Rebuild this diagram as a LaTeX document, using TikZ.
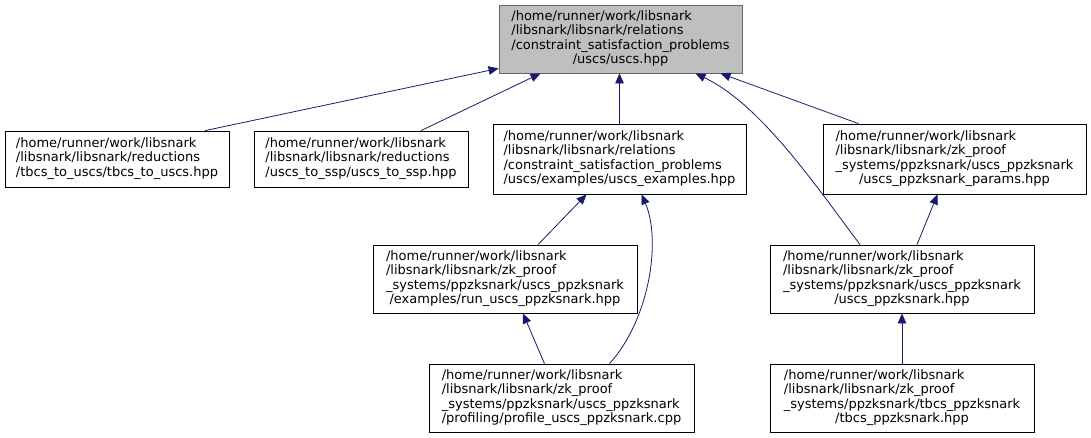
\documentclass[tikz,border=0pt]{standalone}
\usepackage{fontspec}
\setmainfont{DejaVu Sans}
\usepackage{tikz}
\usepackage{xcolor}
\usetikzlibrary{arrows.meta}

\definecolor{rootgray}{RGB}{191,191,191}
\definecolor{rootedge}{RGB}{102,102,102}
\definecolor{edgeblue}{RGB}{25,25,112}

\newcommand{\flines}[2]{\begin{tabular}{@{}l@{}}#1\\\multicolumn{1}{@{}c@{}}{#2}\end{tabular}}

\tikzset{
  file/.style={draw=black, fill=white, rectangle, inner sep=0pt, line width=0.8pt,
    font=\fontsize{13}{14.6}\selectfont},
  rootfile/.style={file, draw=rootedge, fill=rootgray},
  incl/.style={draw=edgeblue, line width=0.8pt, -{Triangle[length=10pt,width=8.5pt]}}
}

\begin{document}
\begin{tikzpicture}[x=1pt,y=-1pt]
\useasboundingbox[fill=white] (0,0) rectangle (1091,437);

\node[rootfile, minimum width=243pt, minimum height=68pt] (uscs) at (620.5,39)
  {\flines{/home/runner/work/libsnark\\/libsnark/libsnark/relations\\/constraint\_satisfaction\_problems}{/uscs/uscs.hpp}};

\node[file, minimum width=224pt, minimum height=56pt] (tbcs2uscs) at (117,159)
  {\flines{/home/runner/work/libsnark\\/libsnark/libsnark/reductions}{/tbcs\_to\_uscs/tbcs\_to\_uscs.hpp}};
\node[file, minimum width=214pt, minimum height=56pt] (uscs2ssp) at (361,159)
  {\flines{/home/runner/work/libsnark\\/libsnark/libsnark/reductions}{/uscs\_to\_ssp/uscs\_to\_ssp.hpp}};
\node[file, minimum width=253pt, minimum height=70pt] (examples) at (619.5,159)
  {\flines{/home/runner/work/libsnark\\/libsnark/libsnark/relations\\/constraint\_satisfaction\_problems}{/uscs/examples/uscs\_examples.hpp}};
\node[file, minimum width=263pt, minimum height=70pt] (params) at (954.5,159)
  {\flines{/home/runner/work/libsnark\\/libsnark/libsnark/zk\_proof\\\_systems/ppzksnark/uscs\_ppzksnark}{/uscs\_ppzksnark\_params.hpp}};

\node[file, minimum width=264pt, minimum height=68pt] (runppz) at (505,279)
  {\flines{/home/runner/work/libsnark\\/libsnark/libsnark/zk\_proof\\\_systems/ppzksnark/uscs\_ppzksnark}{/examples/run\_uscs\_ppzksnark.hpp}};
\node[file, minimum width=264pt, minimum height=68pt] (ppz) at (902,279)
  {\flines{/home/runner/work/libsnark\\/libsnark/libsnark/zk\_proof\\\_systems/ppzksnark/uscs\_ppzksnark}{/uscs\_ppzksnark.hpp}};

\node[file, minimum width=265pt, minimum height=68pt] (profile) at (561.5,398)
  {\flines{/home/runner/work/libsnark\\/libsnark/libsnark/zk\_proof\\\_systems/ppzksnark/uscs\_ppzksnark}{/profiling/profile\_uscs\_ppzksnark.cpp}};
\node[file, minimum width=264pt, minimum height=68pt] (tbcsppz) at (902,398)
  {\flines{/home/runner/work/libsnark\\/libsnark/libsnark/zk\_proof\\\_systems/ppzksnark/tbcs\_ppzksnark}{/tbcs\_ppzksnark.hpp}};

\draw[incl] ([xshift=88pt]tbcs2uscs.north) -- ([yshift=5pt]uscs.south west);
\draw[incl] ([xshift=60pt]uscs2ssp.north) -- ([xshift=-80pt]uscs.south);
\draw[incl] (examples.north) -- (examples.north |- uscs.south);
\draw[incl] ([xshift=-42pt]ppz.north) .. controls +(-45,-60) and +(65,31) .. ([xshift=75pt]uscs.south);
\draw[incl] ([xshift=-96pt]params.north) -- ([xshift=100pt]uscs.south);

\draw[incl] ([xshift=33pt]runppz.north) -- ([xshift=-33pt]examples.south);
\draw[incl] ([xshift=48pt]profile.north) .. controls +(40,-44) and +(20,46) .. ([xshift=22pt]examples.south);
\draw[incl] ([xshift=-17pt]profile.north) -- ([xshift=18pt]runppz.south);
\draw[incl] ([xshift=15pt]ppz.north) -- ([xshift=-17pt]params.south);
\draw[incl] (tbcsppz.north) -- (ppz.south);

\end{tikzpicture}
\end{document}
